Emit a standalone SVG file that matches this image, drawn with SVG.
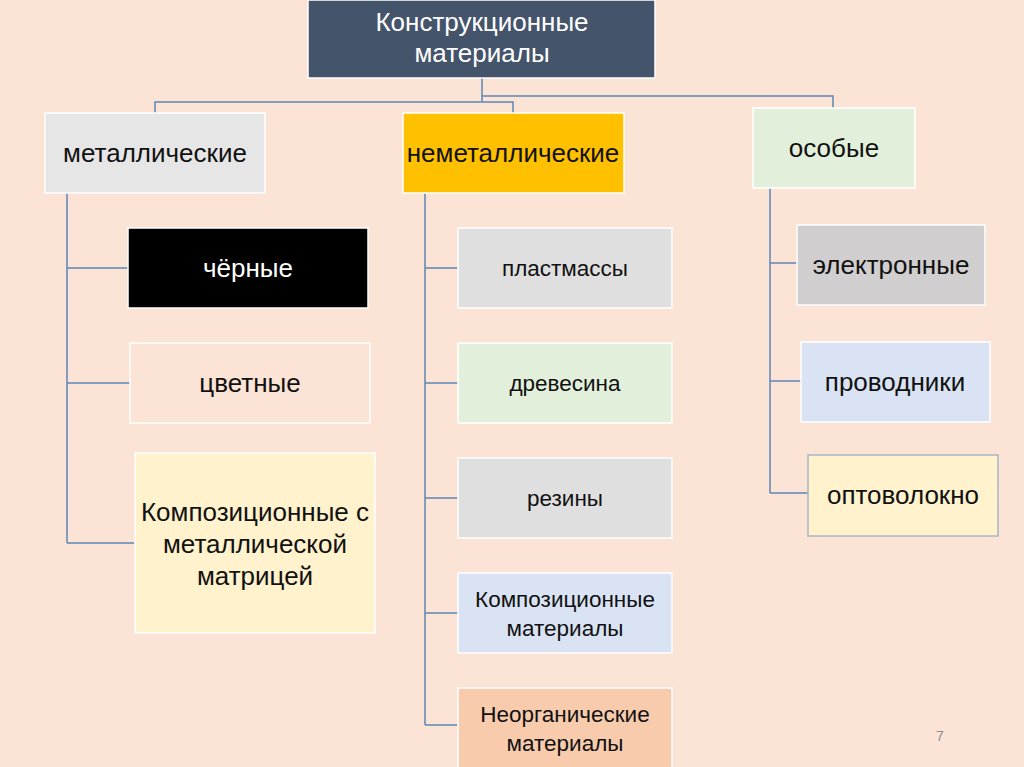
<svg xmlns="http://www.w3.org/2000/svg" width="1024" height="767" viewBox="0 0 1024 767">
<style>
.bx{stroke:#ffffff;stroke-width:1.5}
.t{font-family:"Liberation Sans",Arial,sans-serif;font-size:26px;fill:#111;text-anchor:middle}
.s{font-size:22.5px}
.w{fill:#ffffff}
.cn{fill:none;stroke:#5E86B8;stroke-width:1.5}
</style>
<rect x="0" y="0" width="1024" height="767" fill="#FBE3D6"/>
<g id="connectors">
<path class="cn" d="M482 78V102M155 113V102H513V113M482 96H833V108"/>
<path class="cn" d="M67 193V543M67 268H128M67 383H130M67 543H135"/>
<path class="cn" d="M425 193V725M425 268H458M425 383H458M425 498H458M425 613H458M425 725H458"/>
<path class="cn" d="M770 188V493M770 263H797M770 381H801M770 493H808"/>
</g>
<g id="root"><rect class="bx" x="308" y="0" width="347" height="78" fill="#44546A"/>
<text class="t w" x="482" y="31">Конструкционные</text><text class="t w" x="482" y="62">материалы</text></g>
<g id="metal"><rect class="bx" x="45" y="113" width="220" height="80" fill="#E7E6E6"/><text class="t" x="155" y="162">металлические</text></g>
<g id="nonmetal"><rect class="bx" x="403" y="113" width="221" height="80" fill="#FFC000"/><text class="t" x="513" y="162">неметаллические</text></g>
<g id="special"><rect class="bx" x="753" y="108" width="162" height="80" fill="#E2EFDA"/><text class="t" x="834" y="157">особые</text></g>
<g id="black"><rect class="bx" x="128" y="228" width="240" height="80" fill="#000000"/><text class="t w" x="248" y="277">чёрные</text></g>
<g id="color"><rect class="bx" x="130" y="343" width="240" height="80" fill="#FBE3D6"/><text class="t" x="250" y="392">цветные</text></g>
<g id="compmetal"><rect class="bx" x="135" y="453" width="240" height="180" fill="#FFF2CC"/>
<text class="t" x="255" y="521">Композиционные с</text><text class="t" x="255" y="553">металлической</text><text class="t" x="255" y="585">матрицей</text></g>
<g id="plastic"><rect class="bx" x="458" y="228" width="214" height="80" fill="#DFDFDF"/><text class="t s" x="565" y="276">пластмассы</text></g>
<g id="wood"><rect class="bx" x="458" y="343" width="214" height="80" fill="#E2EFDA"/><text class="t s" x="565" y="391">древесина</text></g>
<g id="rubber"><rect class="bx" x="458" y="458" width="214" height="80" fill="#DFDFDF"/><text class="t s" x="565" y="506">резины</text></g>
<g id="composite"><rect class="bx" x="458" y="573" width="214" height="80" fill="#DAE3F3"/><text class="t s" x="565" y="607">Композиционные</text><text class="t s" x="565" y="636">материалы</text></g>
<g id="inorganic"><rect class="bx" x="458" y="688" width="214" height="80" fill="#F8CBAD"/><text class="t s" x="565" y="722">Неорганические</text><text class="t s" x="565" y="751">материалы</text></g>
<g id="electronic"><rect class="bx" x="797" y="225" width="188" height="80" fill="#D0CECE"/><text class="t" x="891" y="274">электронные</text></g>
<g id="conductors"><rect class="bx" x="801" y="342" width="189" height="80" fill="#DAE3F3"/><text class="t" x="895" y="391">проводники</text></g>
<g id="fiber"><rect x="808" y="455" width="190" height="81" fill="#FFF2CC" stroke="#A8B6C6" stroke-width="1.5"/><text class="t" x="903" y="504">оптоволокно</text></g>
<text x="940" y="741" font-family="Liberation Sans,Arial,sans-serif" font-size="14" fill="#8C8C8C" text-anchor="middle">7</text>
</svg>
